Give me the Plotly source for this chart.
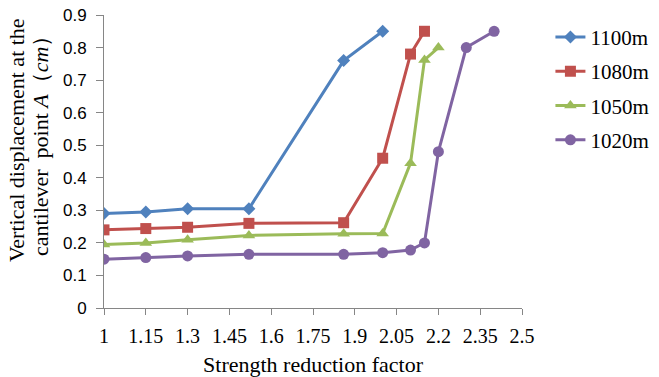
import plotly.graph_objects as go

x_1100 = [1.0, 1.15, 1.3, 1.52, 1.86, 2.0]
y_1100 = [0.29, 0.295, 0.305, 0.305, 0.76, 0.85]

x_1080 = [1.0, 1.15, 1.3, 1.52, 1.86, 2.0, 2.1, 2.15]
y_1080 = [0.24, 0.244, 0.248, 0.26, 0.262, 0.46, 0.78, 0.85]

x_1050 = [1.0, 1.15, 1.3, 1.52, 1.86, 2.0, 2.1, 2.15, 2.2]
y_1050 = [0.195, 0.2, 0.21, 0.223, 0.228, 0.229, 0.445, 0.762, 0.80]

x_1020 = [1.0, 1.15, 1.3, 1.52, 1.86, 2.0, 2.1, 2.15, 2.2, 2.3, 2.4]
y_1020 = [0.15, 0.155, 0.16, 0.165, 0.165, 0.17, 0.178, 0.2, 0.48, 0.80, 0.85]

names = ["1100m", "1080m", "1050m", "1020m"]
colors = ["#4F81BD", "#C0504D", "#9BBB59", "#8064A2"]
symbols = ["diamond", "square", "triangle-up", "circle"]
msizes = [10, 11, 11, 11]

x_ticks = [1, 1.15, 1.3, 1.45, 1.6, 1.75, 1.9, 2.05, 2.2, 2.35, 2.5]
y_ticks = [0, 0.1, 0.2, 0.3, 0.4, 0.5, 0.6, 0.7, 0.8, 0.9]

y_title_lines = ["Vertical displacement at the", "cantilever  point <i>A</i>（<i>cm</i>）"]
x_title = "Strength reduction factor"

series = [(x_1100, y_1100), (x_1080, y_1080), (x_1050, y_1050), (x_1020, y_1020)]

fig = go.Figure()
for (xs, ys), n, c, s, ms in zip(series, names, colors, symbols, msizes):
    fig.add_trace(go.Scatter(
        x=xs, y=ys, name=n, mode="lines+markers", legendgroup=n,
        line=dict(color=c, width=3),
        marker=dict(symbol=s, size=ms, color=c),
    ))

serif = "Liberation Serif"
fig.update_layout(
    width=659, height=377,
    margin=dict(l=104, r=137, t=15, b=69, autoexpand=False),
    paper_bgcolor="white", plot_bgcolor="white",
    showlegend=True,
    legend=dict(
        x=1.068, y=0.994, xanchor="left", yanchor="top",
        font=dict(family=serif, size=21, color="black"),
        tracegroupgap=4, bgcolor="rgba(0,0,0,0)",
    ),
    xaxis=dict(
        range=[1, 2.5], tickmode="array", tickvals=x_ticks,
        ticktext=[str(t) for t in x_ticks], automargin=False,
        showline=True, linecolor="#868686", linewidth=1,
        ticks="outside", ticklen=6, tickcolor="#868686",
        showgrid=False, zeroline=False, ticklabelstandoff=4,
        tickfont=dict(family=serif, size=20, color="black"),
        title=dict(text=x_title,
                   font=dict(family=serif, size=22, color="black"), standoff=10),
    ),
    yaxis=dict(
        range=[0, 0.9], tickmode="array", tickvals=y_ticks, automargin=False,
        ticktext=["0", "0.1", "0.2", "0.3", "0.4", "0.5", "0.6", "0.7", "0.8", "0.9"],
        showline=True, linecolor="#868686", linewidth=1,
        ticks="outside", ticklen=7, tickcolor="#868686",
        showgrid=False, zeroline=False, ticklabelstandoff=6,
        tickfont=dict(family="Liberation Sans", size=17, color="black"),
    ),
)
for i, (txt, xs) in enumerate(zip(y_title_lines, [-88, -64])):
    fig.add_annotation(
        text=txt, x=0, y=0.573, xref="paper", yref="paper",
        xanchor="center", yanchor="middle", xshift=xs, textangle=-90,
        showarrow=False, font=dict(family=serif, size=22, color="black"),
    )
fig.write_html("out.html")
